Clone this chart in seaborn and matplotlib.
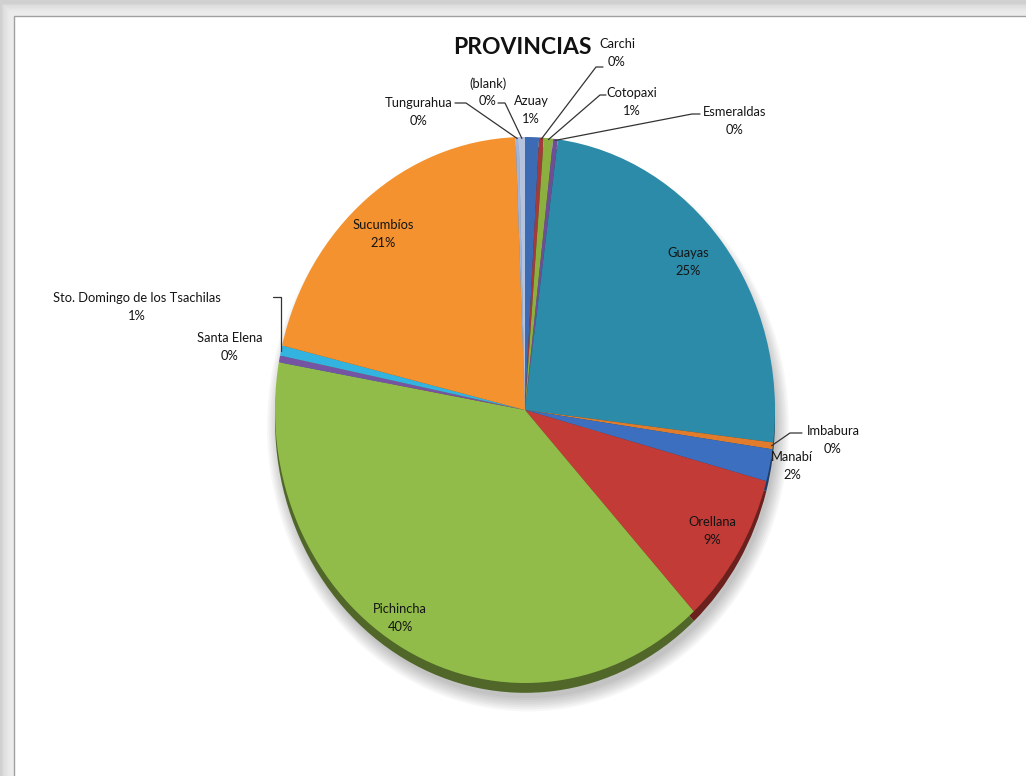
import matplotlib
matplotlib.use("Agg")
import matplotlib.pyplot as plt
import seaborn as sns
import numpy as np
from matplotlib.patches import Rectangle, Ellipse
import matplotlib.colors as mcolors

# ---------------- data ----------------
provinces = ["Azuay", "Carchi", "Cotopaxi", "Esmeraldas", "Guayas", "Imbabura",
             "Manabí", "Orellana", "Pichincha", "Santa Elena",
             "Sto. Domingo de los Tsachilas", "Sucumbíos", "Tungurahua", "(blank)"]
counts = [9, 3, 6, 3, 248, 4, 19, 90, 396, 4, 6, 206, 2, 4]
slice_colors = ["#3D6BB3", "#A33B38", "#8CB040", "#6E4F96", "#2B8BA8", "#E07C2C",
                "#3C6FC0", "#C23B36", "#91BC4A", "#7654A4", "#33B3DF", "#F4922F",
                "#9FB4D8", "#B5C3DE"]
title = "PROVINCIAS"

# ---------------- style ----------------
sns.set_theme(style="white")
plt.rcParams['font.family'] = ['Liberation Sans Narrow', 'Lato', 'DejaVu Sans']

W, H = 1026, 776
fig = plt.figure(figsize=(W / 100, H / 100), dpi=100)
fig.patch.set_facecolor("#d0d0d0")

# frame with soft shadow
fig.add_artist(Rectangle((0, 0), 1, 1, transform=fig.transFigure,
                         facecolor="#d0d0d0", edgecolor="none", zorder=0))
for k in range(12):
    off = k * 1.2
    fig.add_artist(Rectangle(((14 - 12 + off) / W, 0), 1, (H - 16 + 12 - off) / H,
                             transform=fig.transFigure, facecolor="#f2f2f2",
                             edgecolor="none", alpha=0.22, zorder=0.5))
fig.add_artist(Rectangle((14 / W, -0.01), 1, (H - 16) / H + 0.01, transform=fig.transFigure,
                         facecolor="white", edgecolor="#a0a0a0", linewidth=1.0, zorder=1))

# pie axes: ellipse centre (525,410) px, rx 250, ry 273
cx, cy, rx, ry = 525, 410, 250, 273
ax = fig.add_axes([(cx - rx) / W, (H - (cy + ry)) / H, 2 * rx / W, 2 * ry / H])
ax.set_zorder(2)
ax.patch.set_alpha(0)

def P(px, py):
    return ((px - cx) / rx, (cy - py) / ry)

# soft shadow under pie
for k in range(8):
    e = Ellipse((0.012, -0.06), 1.99 + 0.014 * k, 1.99 + 0.014 * k,
                facecolor="#000000", alpha=0.03, edgecolor="none", zorder=0)
    e.set_clip_on(False)
    ax.add_patch(e)

# 3D rim (darker copy shifted downward)
dark = [mcolors.to_hex(np.array(mcolors.to_rgb(c)) * 0.55) for c in slice_colors]
rim, _ = ax.pie(counts, colors=dark, startangle=90, counterclock=False, radius=1.0,
                center=(0, -0.036), wedgeprops=dict(linewidth=0), frame=False)
wedges, _ = ax.pie(counts, colors=slice_colors, startangle=90, counterclock=False,
                   radius=1.0, center=(0, 0), wedgeprops=dict(linewidth=0), frame=False)
for w in list(rim) + list(wedges):
    w.set_clip_on(False)
ax.set_aspect("auto")
ax.set_xlim(-1, 1)
ax.set_ylim(-1, 1)
ax.axis("off")

total = sum(counts)
pct = [f"{round(c / total * 100)}%" for c in counts]

# label layout (pixel positions of text centres; leader start & elbow)
text_pos = {
    "Azuay": (531, 110), "Carchi": (617, 53), "Cotopaxi": (632, 102),
    "Esmeraldas": (735, 121), "Guayas": (688, 262), "Imbabura": (833, 440),
    "Manabí": (792, 466), "Orellana": (712, 531), "Pichincha": (400, 618),
    "Santa Elena": (230, 347), "Sto. Domingo de los Tsachilas": (137, 307),
    "Sucumbíos": (383, 234), "Tungurahua": (419, 112), "(blank)": (488, 92),
}
leaders = {
    "Carchi": [(603, 67), (596, 67)],
    "Cotopaxi": [(606, 95), (600, 95)],
    "Esmeraldas": [(700, 114), (692, 114)],
    "Imbabura": [(802, 433), (790, 433)],
    "Sto. Domingo de los Tsachilas": [(273, 297), (281, 297)],
    "Tungurahua": [(455, 103), (466, 103)],
    "(blank)": [(498, 103), (505, 103)],
}

for w, name, p in zip(wedges, provinces, pct):
    tx, ty = P(*text_pos[name])
    ax.text(tx, ty, f"{name}\n{p}", ha="center", va="center", fontsize=9.3,
            color="#141414", linespacing=1.55, clip_on=False, zorder=5)
    if name in leaders:
        mid = np.deg2rad((w.theta1 + w.theta2) / 2)
        end = (np.cos(mid) * 0.995, np.sin(mid) * 0.995)
        pts = [P(*leaders[name][0]), P(*leaders[name][1]), end]
        if name == "Sto. Domingo de los Tsachilas":
            pts = [P(*leaders[name][0]), P(*leaders[name][1]), (P(*leaders[name][1])[0], end[1])]
        xs, ys = zip(*pts)
        ax.plot(xs, ys, color="#333333", linewidth=0.9, clip_on=False, zorder=4)

fig.text(522 / W, 1 - 47 / H, title, ha="center", va="center", fontsize=16.5,
         fontweight="bold", color="#111111", zorder=6)

fig.savefig("out.png", dpi=100, facecolor=fig.get_facecolor())
